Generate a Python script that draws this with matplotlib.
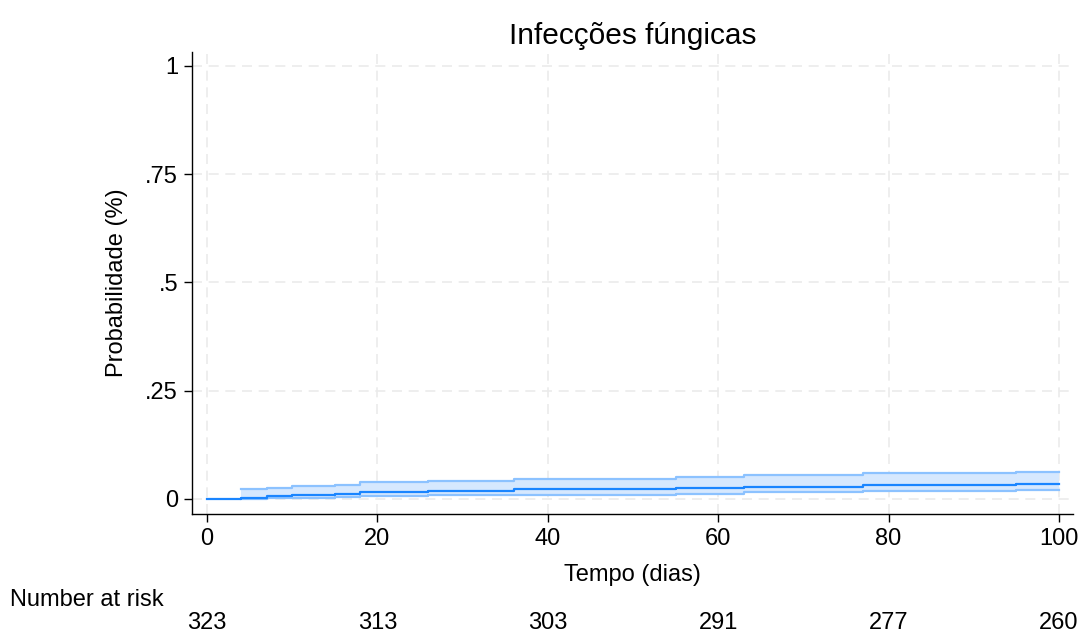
import matplotlib
matplotlib.use("Agg")
from matplotlib import pyplot as plt
from matplotlib import transforms
import numpy as np

plt.rcParams['font.family'] = ['Liberation Sans', 'DejaVu Sans']

# step times (days) and cumulative failure estimates
times = [0, 4, 7, 10, 15, 18, 26, 36, 55, 63, 77, 95, 100]
est   = [0, .003, .006, .009, .012, .016, .019, .022, .025, .028, .032, .035]
upper = [0, .022, .025, .029, .033, .038, .042, .046, .050, .055, .059, .063]
lower = [0, .0005, .0015, .003, .004, .006, .008, .009, .012, .015, .018, .021]

risk_times = [0, 20, 40, 60, 80, 100]
at_risk    = [323, 313, 303, 291, 277, 260]

ytick_vals   = [0, .25, .5, .75, 1]
ytick_labels = ["0", ".25", ".5", ".75", "1"]

line_col = "#1a85ff"
ci_col   = "#8cc2ff"
fill_col = "#d6e8fe"
FS = 17

def steps(t, v):
    # extend values so the last step runs to the end time
    return np.array(t), np.array(list(v) + [v[-1]])

fig = plt.figure(figsize=(10.82, 6.35), dpi=100)
ax = fig.add_axes([0.1774, 0.1906, 0.8143, 0.7274])

tt, e = steps(times, est)
_, u = steps(times, upper)
_, l = steps(times, lower)

# CI only starts once the first event happens
ci_t = tt[1:]
ax.fill_between(ci_t, l[1:], u[1:], step="post", color=fill_col, lw=0, zorder=2)
ax.step(ci_t, u[1:], where="post", color=ci_col, lw=1.6, zorder=3)
ax.step(ci_t, l[1:], where="post", color=ci_col, lw=1.6, zorder=3)
ax.step(tt, e, where="post", color=line_col, lw=1.6, zorder=4)

ax.set_xlim(-1.76, 101.64)
ax.set_ylim(-0.035, 1.032)
ax.set_xticks(risk_times)
ax.set_yticks(ytick_vals)
ax.set_yticklabels(ytick_labels)
ax.tick_params(direction="out", length=6, width=1, labelsize=FS, pad=4)

for s in ["top", "right"]:
    ax.spines[s].set_visible(False)
for s in ["left", "bottom"]:
    ax.spines[s].set_linewidth(1.0)

ax.grid(True, color="#ebebeb", linestyle=(0, (6, 4)), linewidth=1.2, zorder=0)
ax.set_axisbelow(True)

ax.set_title("Infecções fúngicas", fontsize=21.5, pad=6)
ax.set_xlabel("Tempo (dias)", fontsize=FS, va="center")
ax.set_ylabel("Probabilidade (%)", fontsize=FS, va="center")
ax.xaxis.set_label_coords(0.5, (514 - 575) / 462)
ax.yaxis.set_label_coords((117 - 192) / 881, 0.5)

# number at risk table below the axis
fig.text(10 / 1082, 1 - 600 / 635, "Number at risk", fontsize=FS,
         ha="left", va="center")
trans = transforms.blended_transform_factory(ax.transData, fig.transFigure)
for t, n in zip(risk_times, at_risk):
    ax.text(t, 1 - 623 / 635, str(n), fontsize=FS, ha="center", va="center",
            transform=trans, clip_on=False)

fig.savefig("out.png", dpi=100)
